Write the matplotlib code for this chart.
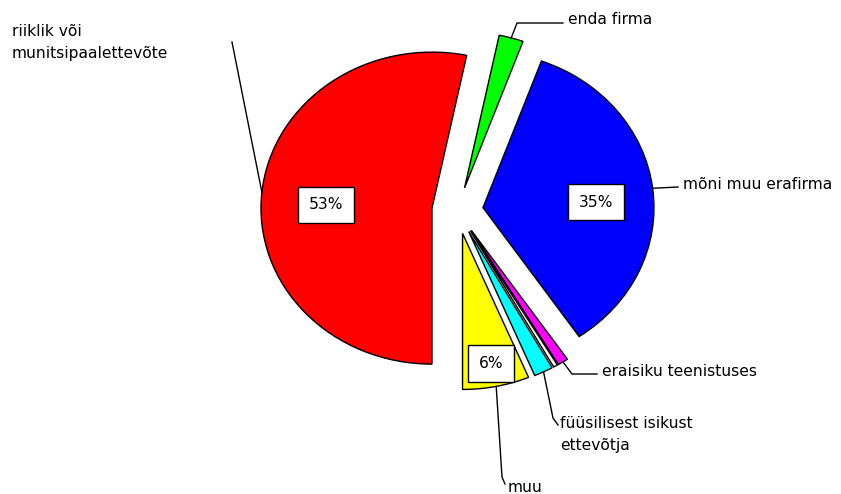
import matplotlib.pyplot as plt
import matplotlib.transforms as mtransforms
import numpy as np

# slices, clockwise from 6 o'clock
labels = [
    "riiklik või\nmunitsipaalettevõte",
    "enda firma",
    "mõni muu erafirma",
    "eraisiku teenistuses",
    "",
    "füüsilisest isikust\nettevõtja",
    "muu",
]
shares = [53.2, 2.3, 34.9, 1.0, 0.4, 1.8, 6.3]
pct_labels = ["53%", None, "35%", None, None, None, "6%"]
colors = ["#ff0000", "#00ff00", "#0000ff", "#ff00ff", "#ffffff", "#00ffff", "#ffff00"]

# layout (reference pixels, y down)
W, H = 841, 494
CX, CY, RX, RY = 457.5, 210.5, 171.0, 156.0
pct_dist = [0.62, None, 0.66, None, None, None, 0.85]
pct_turn = [4, 0, -4, 0, 0, 0, 0]   # degrees, nudges the % boxes
label_pos = [(12, 24, "top"), (568, 20, "center"), (683, 184, "center"),
             (602, 371, "center"), None, (560, 416, "top"), (508, 487, "center")]
leader_pts = [[(232, 42)], [(517, 23), (563, 23)], [(678, 187)],
              [(572, 374), (597, 374)], None, [(553, 418), (558, 425)],
              [(502, 477), (505, 484)]]

FONT = dict(family="DejaVu Sans", fontsize=11.2)

fig = plt.figure(figsize=(W / 100, H / 100), dpi=100)
ax = fig.add_axes([0, 0, 1, 1])
wedges, _ = ax.pie(
    shares,
    colors=colors,
    startangle=-90,
    counterclock=False,
    explode=[0.15] * len(shares),
    wedgeprops=dict(edgecolor="black", linewidth=1.0),
)
ax.set_aspect("auto")
ax.set_xlim(-CX / RX, (W - CX) / RX)
ax.set_ylim((CY - H) / RY, CY / RY)
ax.axis("off")

# pixel coords of the reference -> figure
px = mtransforms.Affine2D().scale(1 / W, -1 / H).translate(0, 1) + fig.transFigure


def wedge_point(w, frac, turn=0.0):
    a = np.deg2rad((w.theta1 + w.theta2) / 2 + turn)
    x, y = w.center[0] + frac * w.r * np.cos(a), w.center[1] + frac * w.r * np.sin(a)
    dx, dy = ax.transData.transform((x, y))
    return dx, H - dy


for w, lab, pos, pts, pct, pd, turn in zip(wedges, labels, label_pos, leader_pts,
                                           pct_labels, pct_dist, pct_turn):
    if pct is not None:
        x, y = wedge_point(w, pd, turn)
        fig.text(x, y, pct, transform=px, ha="center", va="center", **FONT,
                 bbox=dict(boxstyle="square,pad=0.7", fc="white", ec="black", lw=1.0))
    if pos is None:
        continue
    ax0 = wedge_point(w, 1.0)
    xs = [ax0[0]] + [p[0] for p in pts]
    ys = [ax0[1]] + [p[1] for p in pts]
    fig.add_artist(plt.Line2D(xs, ys, transform=px, color="black", lw=1.0))
    fig.text(pos[0], pos[1], lab, transform=px, ha="left", va=pos[2],
             linespacing=1.55, **FONT)

fig.savefig("out.png", dpi=100)
